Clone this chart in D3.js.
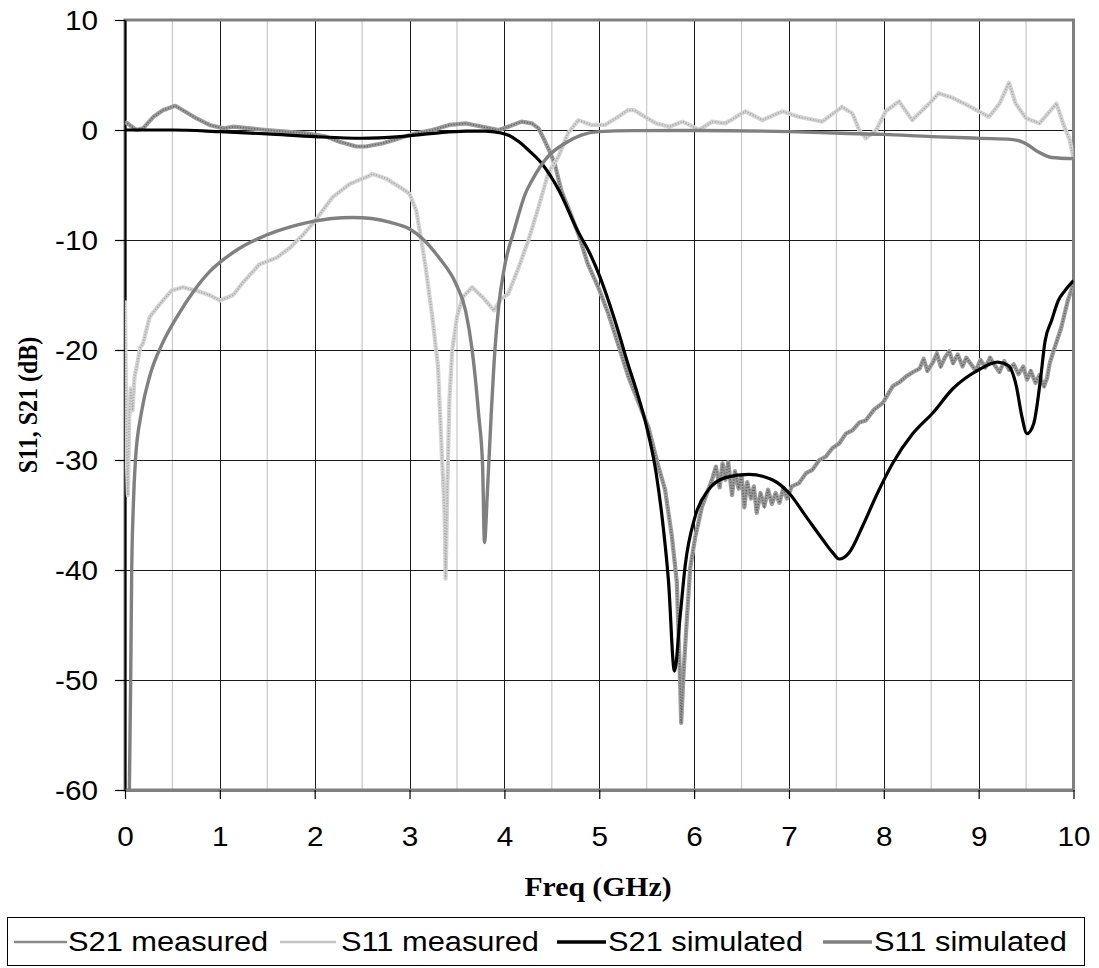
<!DOCTYPE html>
<html><head><meta charset="utf-8">
<script src="https://cdn.jsdelivr.net/npm/d3@7/dist/d3.min.js"></script>
<style>html,body{margin:0;padding:0;background:#fff;} svg{display:block;}</style>
</head><body>
<svg id="chart" width="1099" height="968"></svg>
<script>
// ---------- data ----------
const freqTicks = [0,1,2,3,4,5,6,7,8,9,10];
const halfTicks = [0.5,1.5,2.5,3.5,4.5,5.5,6.5,7.5,8.5,9.5];
const dbTicks = [10,0,-10,-20,-30,-40,-50,-60];
const seriesNames = ["S21 measured","S11 measured","S21 simulated","S11 simulated"];
const xTitle = "Freq (GHz)";
const yTitle = "S11, S21 (dB)";

const s21Measured = [[0,0.76],[0.05,0.45],[0.12,0],[0.19,0.15],[0.3,1.2],[0.4,1.8],[0.53,2.2],[0.61,1.8],[0.75,1.07],[0.89,0.46],[1.04,0.15],[1.14,0.3],[1.32,0.15],[1.49,0],[1.7,-0.15],[1.91,-0.3],[2.12,-0.6],[2.26,-1.07],[2.44,-1.5],[2.54,-1.5],[2.72,-1.2],[2.86,-0.85],[2.95,-0.6],[3.07,-0.3],[3.24,0],[3.42,0.46],[3.59,0.6],[3.77,0.3],[3.94,0],[4.04,0.3],[4.18,0.76],[4.29,0.6],[4.36,0.15],[4.43,-1.07],[4.48,-2.0],[4.53,-3.05],[4.6,-5.5],[4.67,-7.0],[4.78,-9.45],[4.88,-12.2],[4.99,-14.3],[5.1,-16.8],[5.2,-19.5],[5.306,-22.4],[5.447,-25.5],[5.518,-27],[5.624,-30.6],[5.694,-32.7],[5.765,-36.9],[5.818,-41.1],[5.853,-50.3],[5.864,-53.9],[5.888,-49.5],[5.924,-44.4],[5.959,-39.8],[6.012,-37],[6.082,-34.3],[6.188,-31.8],[6.23,-30.6],[6.27,-32.5],[6.3,-30.3],[6.33,-31.8],[6.36,-30.2],[6.4,-33.2],[6.43,-31],[6.47,-32.6],[6.5,-31.4],[6.53,-34.3],[6.56,-32],[6.6,-33.5],[6.63,-32.4],[6.66,-34.8],[6.7,-33],[6.74,-34.2],[6.78,-32.7],[6.82,-34],[6.86,-33],[6.9,-33.9],[6.94,-32.6],[6.98,-33.5],[7.03,-32.4],[7.106,-32.1],[7.18,-31.2],[7.247,-30.9],[7.32,-30.0],[7.388,-29.7],[7.46,-28.9],[7.53,-28.5],[7.6,-27.6],[7.67,-27.3],[7.74,-26.6],[7.81,-26.4],[7.9,-25.4],[7.99,-24.8],[8.094,-23.3],[8.17,-22.9],[8.236,-22.4],[8.31,-22.0],[8.377,-21.7],[8.42,-20.8],[8.46,-21.9],[8.52,-21.1],[8.56,-20.3],[8.6,-21.5],[8.65,-20.6],[8.69,-20.1],[8.73,-21.2],[8.78,-20.4],[8.83,-21.5],[8.87,-20.7],[8.92,-21.3],[8.97,-21.9],[9.02,-20.9],[9.07,-21.6],[9.12,-20.7],[9.17,-21.4],[9.22,-22.0],[9.27,-21.0],[9.32,-21.8],[9.37,-21.3],[9.42,-22.2],[9.47,-21.5],[9.51,-22.7],[9.55,-21.9],[9.6,-23.0],[9.64,-22.3],[9.69,-23.3],[9.72,-22.6],[9.75,-21.2],[9.8,-19.8],[9.87,-18],[9.94,-15.5],[10,-14]];

const s11Measured = [[0,-15.5],[0.01,-24],[0.02,-30],[0.03,-33.2],[0.045,-26],[0.06,-23.5],[0.08,-25.5],[0.1,-22.5],[0.13,-21.2],[0.16,-19.8],[0.19,-19.4],[0.26,-17],[0.37,-15.8],[0.49,-14.6],[0.61,-14.3],[0.75,-14.6],[0.89,-15],[1.0,-15.5],[1.14,-15],[1.25,-13.8],[1.42,-12.2],[1.6,-11.6],[1.74,-10.7],[1.88,-9.5],[2.0,-8.3],[2.19,-6.1],[2.37,-4.9],[2.54,-4.3],[2.61,-4.0],[2.75,-4.4],[2.9,-5.2],[3.0,-5.8],[3.07,-7.3],[3.12,-9.8],[3.17,-12.5],[3.24,-17],[3.3,-21.5],[3.33,-27.5],[3.37,-35],[3.38,-40.8],[3.4,-32],[3.42,-24.5],[3.45,-20],[3.5,-17],[3.56,-15.2],[3.66,-14.3],[3.77,-15.2],[3.89,-16.4],[3.96,-15.4],[4.04,-14.9],[4.15,-12.5],[4.25,-10.1],[4.36,-7.0],[4.46,-4.0],[4.57,-2.4],[4.67,-0.3],[4.78,0.9],[4.92,0.46],[5.06,0.46],[5.2,1.2],[5.3,1.8],[5.37,1.8],[5.48,1.2],[5.6,0.6],[5.74,0.3],[5.88,0.76],[5.99,0.3],[6.05,0],[6.19,0.76],[6.33,0.6],[6.54,1.7],[6.72,0.9],[6.93,1.7],[7.1,1.2],[7.35,0.76],[7.56,2.1],[7.67,1.5],[7.74,0],[7.81,-0.76],[7.92,0],[8.02,1.7],[8.16,2.6],[8.3,0.9],[8.48,2.4],[8.58,3.35],[8.73,2.9],[8.87,2.3],[9.0,1.7],[9.11,1.2],[9.22,2.4],[9.32,4.3],[9.39,2.4],[9.5,1.07],[9.64,0.6],[9.75,1.7],[9.82,2.4],[9.89,0.6],[9.96,-0.9],[10,-2.6]];

const s21Simulated = [[0,0],[0.5,0],[1,-0.15],[1.5,-0.35],[2,-0.6],[2.5,-0.75],[2.9,-0.6],[3.25,-0.3],[3.6,-0.1],[3.8,-0.1],[3.95,-0.25],[4.05,-0.5],[4.15,-1.05],[4.25,-1.8],[4.39,-3.0],[4.57,-5.4],[4.78,-9.3],[4.9,-11.2],[5.0,-13.2],[5.1,-15.6],[5.2,-18.3],[5.3,-21.2],[5.4,-23.9],[5.5,-27.0],[5.6,-31.2],[5.66,-35],[5.73,-41],[5.793,-49.2],[5.853,-44.2],[5.906,-39.6],[6.012,-35.1],[6.153,-32.7],[6.33,-31.6],[6.577,-31.3],[6.824,-31.8],[7.0,-33.0],[7.177,-35.1],[7.353,-37.2],[7.459,-38.4],[7.53,-39.0],[7.636,-38.4],[7.777,-36.0],[7.918,-33.3],[8.094,-30.3],[8.306,-27.6],[8.518,-25.7],[8.73,-23.5],[9.0,-21.8],[9.2,-21.1],[9.31,-21.4],[9.4,-23.4],[9.45,-25.8],[9.51,-27.6],[9.58,-26.7],[9.65,-22.8],[9.7,-19.2],[9.77,-17.3],[9.84,-15.5],[9.91,-14.6],[10,-13.7]];

const s11Simulated = [[0.035,-65],[0.046,-60],[0.06,-50],[0.07,-40.6],[0.088,-34.1],[0.11,-30],[0.175,-25.6],[0.263,-22.3],[0.4,-19.3],[0.54,-17.1],[0.72,-14.7],[0.89,-12.9],[1.05,-11.7],[1.2,-10.8],[1.4,-9.9],[1.6,-9.2],[1.83,-8.6],[2.18,-8.05],[2.4,-7.95],[2.6,-8.05],[2.8,-8.4],[3.0,-9.0],[3.14,-9.9],[3.31,-11.6],[3.49,-14.0],[3.59,-16.4],[3.66,-20],[3.73,-26],[3.77,-30.5],[3.79,-37.5],[3.82,-33],[3.86,-26],[3.9,-20],[3.94,-16],[4.0,-12.5],[4.11,-8.9],[4.22,-5.8],[4.29,-4.6],[4.46,-2.4],[4.64,-1.2],[4.81,-0.46],[5.0,-0.15],[5.35,-0.06],[6.0,-0.05],[7,-0.15],[7.55,-0.3],[8.0,-0.4],[8.5,-0.6],[9.03,-0.76],[9.34,-0.85],[9.49,-1.2],[9.63,-2.0],[9.77,-2.5],[10,-2.6]];

// ---------- drawing ----------
const svg = d3.select("#chart");
const x = d3.scaleLinear().domain([0,10]).range([125,1073.5]);
const y = d3.scaleLinear().domain([-60,10]).range([790,20]);
const SANS = "'Liberation Sans', Arial, sans-serif";
const SERIF = "'Liberation Serif', 'Times New Roman', serif";
const SX = 1.1; // horizontal text stretch seen in the reference

svg.append("rect").attr("width",1099).attr("height",968).attr("fill","#fff");

// grid
const grid = svg.append("g");
grid.selectAll(".vminor").data(halfTicks).join("line")
  .attr("x1",d=>x(d)).attr("x2",d=>x(d)).attr("y1",y(10)).attr("y2",y(-60))
  .attr("stroke","#c8c8c8").attr("stroke-width",1.2);
grid.selectAll(".vmajor").data(freqTicks.slice(1,-1)).join("line")
  .attr("x1",d=>Math.round(x(d))+0.5).attr("x2",d=>Math.round(x(d))+0.5).attr("y1",y(10)).attr("y2",y(-60))
  .attr("stroke","#1a1a1a").attr("stroke-width",1);
grid.selectAll(".h").data(dbTicks.slice(1,-1)).join("line")
  .attr("x1",x(0)).attr("x2",x(10)).attr("y1",d=>Math.round(y(d))+0.5).attr("y2",d=>Math.round(y(d))+0.5)
  .attr("stroke","#1a1a1a").attr("stroke-width",1);

// plot border
svg.append("rect").attr("x",x(0)).attr("y",y(10)).attr("width",x(10)-x(0)).attr("height",y(-60)-y(10))
  .attr("fill","none").attr("stroke","#808080").attr("stroke-width",3);

// left axis
const yAxis = svg.append("g").attr("transform",`translate(${x(0)},0)`)
  .call(d3.axisLeft(y).tickValues(dbTicks).tickSize(10).tickSizeOuter(0).tickFormat(d=>d));
yAxis.select(".domain").attr("stroke","#000").attr("stroke-width",2);
yAxis.selectAll(".tick line").attr("stroke","#000").attr("stroke-width",1.2);
yAxis.selectAll(".tick text").attr("x",0).attr("y",0).attr("dy",null)
  .attr("transform",`translate(-27,9.5) scale(${SX},1)`)
  .attr("text-anchor","end").attr("fill","#000")
  .style("font-family",SANS).style("font-size","27px");

// bottom axis
const xAxis = svg.append("g").attr("transform",`translate(0,${y(-60)})`)
  .call(d3.axisBottom(x).tickValues(freqTicks).tickSize(9).tickSizeOuter(0).tickFormat(d=>d));
xAxis.select(".domain").attr("stroke","#808080").attr("stroke-width",3);
xAxis.selectAll(".tick line").attr("stroke","#000").attr("stroke-width",1.2);
xAxis.selectAll(".tick text").attr("x",0).attr("y",0).attr("dy",null)
  .attr("transform",`translate(0,56) scale(${SX},1)`)
  .attr("text-anchor","middle").attr("fill","#000")
  .style("font-family",SANS).style("font-size","27px");

// titles
svg.append("text").text(xTitle)
  .attr("transform",`translate(598,896) scale(${SX},1)`)
  .attr("text-anchor","middle").style("font-family",SERIF).style("font-weight","bold").style("font-size","27px");
svg.append("text").text(yTitle)
  .attr("transform",`translate(37,405) scale(${SX},1) rotate(-90)`)
  .attr("text-anchor","middle").style("font-family",SERIF).style("font-weight","bold").style("font-size","24px");

// series
svg.append("clipPath").attr("id","plotclip").append("rect")
  .attr("x",x(0)).attr("y",y(10)).attr("width",x(10)-x(0)).attr("height",y(-60)-y(10));
const plot = svg.append("g").attr("clip-path","url(#plotclip)");
const lineLin = d3.line().x(d=>x(d[0])).y(d=>y(d[1])).curve(d3.curveLinear);
const lineSmooth = d3.line().x(d=>x(d[0])).y(d=>y(d[1])).curve(d3.curveMonotoneX);

const styles = [
  {data:s21Measured, gen:lineLin, base:"#9c9c9c", over:"#666", w:4.2},
  {data:s11Measured, gen:lineLin, base:"#d4d4d4", over:"#a9a9a9", w:4.2},
  {data:s21Simulated, gen:lineSmooth, base:"#000", w:3.2},
  {data:s11Simulated, gen:lineSmooth, base:"#808080", w:3.4}
];
styles.forEach(s=>{
  plot.append("path").attr("d",s.gen(s.data)).attr("fill","none")
    .attr("stroke",s.base).attr("stroke-width",s.w).attr("stroke-linejoin","round");
  if(s.over){
    plot.append("path").attr("d",s.gen(s.data)).attr("fill","none")
      .attr("stroke",s.over).attr("stroke-width",1.6).attr("stroke-dasharray","1.2,1.6");
  }
});

// legend
const lg = svg.append("g");
lg.append("rect").attr("x",7.5).attr("y",917.5).attr("width",1077).attr("height",48)
  .attr("fill","#fff").attr("stroke","#000").attr("stroke-width",1);
const legendSample = [[14,67],[280,336],[557,606],[823,872]];
const legendText = [68,341,608,874];
const legendStroke = [{c:"#8a8a8a",w:2.5},{c:"#c4c4c4",w:2.5},{c:"#000",w:3.5},{c:"#808080",w:3.5}];
seriesNames.forEach((n,i)=>{
  lg.append("line").attr("x1",legendSample[i][0]).attr("x2",legendSample[i][1]).attr("y1",942).attr("y2",942)
    .attr("stroke",legendStroke[i].c).attr("stroke-width",legendStroke[i].w);
  lg.append("text").text(n).attr("transform",`translate(${legendText[i]},951) scale(${SX},1)`)
    .style("font-family",SANS).style("font-size","28px").attr("fill","#000");
});
</script>
</body></html>
